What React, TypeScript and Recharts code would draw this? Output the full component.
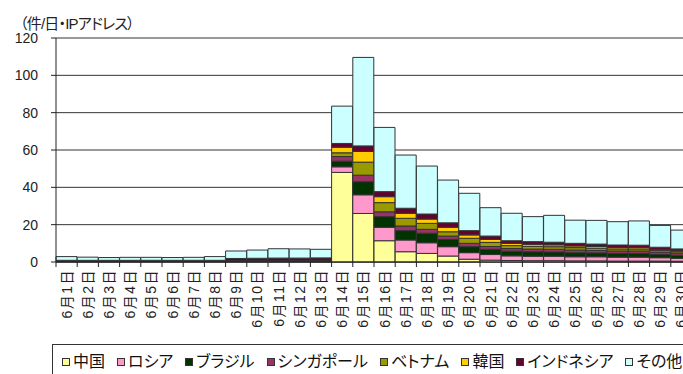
import React from 'react';
import { BarChart, Bar, XAxis, YAxis, CartesianGrid } from 'recharts';

const days = [
  '6月1日', '6月2日', '6月3日', '6月4日', '6月5日', '6月6日', '6月7日', '6月8日', '6月9日', '6月10日',
  '6月11日', '6月12日', '6月13日', '6月14日', '6月15日', '6月16日', '6月17日', '6月18日', '6月19日', '6月20日',
  '6月21日', '6月22日', '6月23日', '6月24日', '6月25日', '6月26日', '6月27日', '6月28日', '6月29日', '6月30日',
];

const china = [0, 0, 0, 0, 0, 0, 0, 0, 0, 0, 0, 0, 0.2, 48, 26, 11.4, 5.5, 4.6, 3.2, 1.5, 1.0, 0.8, 0.7, 0.7, 0.6, 0.6, 0.5, 0.5, 0.5, 0.4];
const russia = [0, 0, 0, 0, 0, 0, 0, 0, 0, 0, 0, 0, 0, 3, 10, 7.2, 6.3, 5.7, 5.0, 3.5, 3.0, 2.5, 2.4, 2.4, 2.2, 2.2, 2.1, 2.1, 1.8, 1.6];
const brazil = [0.6, 0.6, 0.6, 0.6, 0.6, 0.6, 0.6, 0.6, 0.4, 0.4, 0.4, 0.4, 0.4, 3, 7, 5.7, 5, 5.1, 3.9, 3.2, 2.8, 2.5, 2.4, 2.3, 2.2, 2.1, 2.0, 2.0, 1.8, 1.6];
const singapore = [0, 0, 0, 0, 0, 0, 0, 0, 0.3, 0.3, 0.3, 0.3, 0.3, 2.5, 3.5, 2.6, 2.5, 2.1, 1.8, 1.8, 1.5, 1.4, 1.4, 1.4, 1.4, 1.3, 1.3, 1.3, 1.2, 1.1];
const vietnam = [0, 0, 0, 0, 0, 0, 0, 0, 0, 0, 0, 0, 0, 2, 7, 4.9, 4.1, 3.2, 2.3, 2.7, 2.2, 1.6, 1.5, 1.4, 1.3, 1.2, 1.1, 1.1, 0.9, 0.8];
const korea = [0, 0, 0, 0, 0, 0, 0, 0, 0, 0, 0, 0, 0, 3, 5.7, 3.2, 2.7, 2.3, 2.4, 1.8, 1.6, 1.2, 1.1, 1.0, 0.9, 0.9, 0.8, 0.8, 0.6, 0.5];
const indonesia = [0.3, 0.3, 0.3, 0.3, 0.3, 0.3, 0.3, 0.3, 1.2, 1.3, 1.4, 1.4, 1.3, 2, 3, 2.7, 2.7, 2.7, 2.4, 2.3, 1.8, 1.4, 1.4, 1.4, 1.4, 1.3, 1.3, 1.2, 1.1, 1.0];
const other = [2.0, 1.7, 1.5, 1.6, 1.6, 1.5, 1.6, 2.0, 4.0, 4.4, 5.0, 4.9, 4.6, 20, 47.4, 34.4, 28.5, 25.7, 22.9, 20, 15.2, 14.7, 13.4, 14.4, 12.4, 12.7, 12.5, 13, 11.7, 10.1];

const yTicks = [0, 20, 40, 60, 80, 100, 120];

const series = [
  { key: 'china', name: '中国', values: china, color: '#FFFF99' },
  { key: 'russia', name: 'ロシア', values: russia, color: '#FF99CC' },
  { key: 'brazil', name: 'ブラジル', values: brazil, color: '#003300' },
  { key: 'singapore', name: 'シンガポール', values: singapore, color: '#993366' },
  { key: 'vietnam', name: 'ベトナム', values: vietnam, color: '#999900' },
  { key: 'korea', name: '韓国', values: korea, color: '#FFCC00' },
  { key: 'indonesia', name: 'インドネシア', values: indonesia, color: '#660033' },
  { key: 'other', name: 'その他', values: other, color: '#CCFFFF' },
];

const data = days.map((day, i) => {
  const row: Record<string, string | number> = { day };
  series.forEach((s) => { row[s.key] = s.values[i]; });
  return row;
});

const FONT = "'Liberation Sans', 'Noto Sans CJK JP', sans-serif";
const CHART_W = 720;
const CHART_H = 374;
const PLOT_LEFT = 56;
const PLOT_RIGHT = 692;
const BAND = (PLOT_RIGHT - PLOT_LEFT) / days.length;

const XTick = (props: any) => {
  const { x, y, payload } = props;
  const ty = y + 7;
  return (
    <g>
      <line x1={x - BAND / 2} x2={x - BAND / 2} y1={y} y2={y + 5} stroke="#222" />
      <text
        x={x}
        y={ty}
        transform={`rotate(-90, ${x}, ${ty})`}
        textAnchor="end"
        dy="0.36em"
        fontSize={14}
        fill="#222"
        fontFamily={FONT}
        style={{ letterSpacing: '1.5px' }}
      >
        {payload.value}
      </text>
    </g>
  );
};

const App = () => {
  return (
    <div style={{ position: 'absolute', left: 0, top: 0, width: 683, height: 374, overflow: 'hidden', background: '#fff', fontFamily: FONT }}>
      <div style={{ position: 'absolute', left: 20, top: 12, fontSize: 15, letterSpacing: -0.8, color: '#222', whiteSpace: 'nowrap', fontFeatureSettings: "'palt'" }}>
        （件/日・IPアドレス）
      </div>
      <BarChart
        width={CHART_W}
        height={CHART_H}
        data={data}
        margin={{ top: 38, right: CHART_W - PLOT_RIGHT, left: 0, bottom: 0 }}
        barCategoryGap={0}
        barGap={0}
      >
        <CartesianGrid vertical={false} stroke="#333" />
        <XAxis
          dataKey="day"
          interval={0}
          height={112}
          tickLine={false}
          tickSize={0}
          tickMargin={0}
          axisLine={{ stroke: '#222' }}
          tick={<XTick />}
        />
        <YAxis
          width={PLOT_LEFT}
          domain={[0, 120]}
          ticks={yTicks}
          tickSize={5}
          tickMargin={13}
          axisLine={{ stroke: '#222' }}
          tickLine={{ stroke: '#222' }}
          tick={{ fontSize: 14, fill: '#222', fontFamily: FONT }}
        />
        {series.map((s) => (
          <Bar
            key={s.key}
            dataKey={s.key}
            name={s.name}
            stackId="a"
            fill={s.color}
            stroke="#333"
            strokeWidth={1}
            isAnimationActive={false}
          />
        ))}
      </BarChart>
      <div
        style={{
          position: 'absolute', left: 52, top: 344, width: 700, height: 40,
          border: '1px solid #333', display: 'flex', alignItems: 'flex-start',
          paddingTop: 8, paddingLeft: 9, boxSizing: 'border-box', fontSize: 16, lineHeight: '18px', color: '#111',
          fontFeatureSettings: "'palt'",
        }}
      >
        {series.map((s) => (
          <div key={s.key} style={{ display: 'flex', alignItems: 'center', marginRight: 12, whiteSpace: 'nowrap' }}>
            <span style={{ display: 'inline-block', width: 6, height: 6, border: '1px solid #333', background: s.color, marginRight: 3 }} />
            <span>{s.name}</span>
          </div>
        ))}
      </div>
    </div>
  );
};

export default App;
